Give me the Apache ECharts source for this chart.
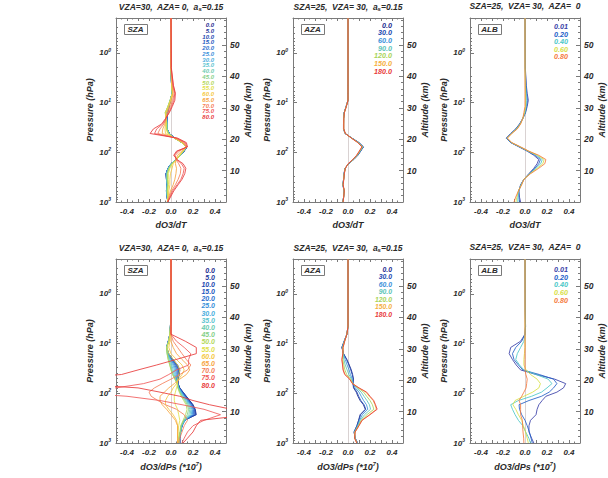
<!DOCTYPE html>
<html>
<head>
<meta charset="utf-8">
<script src="https://cdn.jsdelivr.net/npm/echarts@6/dist/echarts.min.js"></script>
<style>
  html, body { margin: 0; padding: 0; background: #fff; }
  #chart { width: 608px; height: 478px; }
</style>
</head>
<body>
<div id="chart"></div>
<script>
// pressure levels (hPa), bottom to top; every profile row below follows this order
const PRES = [1000, 800, 600, 450, 350, 270, 210, 170, 140, 115, 95, 78, 64, 52, 42, 34, 27, 21, 16, 12, 9, 6.5, 4.5, 2, 0.2];

const SZA = ["0.0", "5.0", "10.0", "15.0", "20.0", "25.0", "30.0", "35.0", "40.0", "45.0", "50.0", "55.0", "60.0", "65.0", "70.0", "75.0", "80.0"];
const AZA = ["0.0", "30.0", "60.0", "90.0", "120.0", "150.0", "180.0"];
const ALB = ["0.01", "0.20", "0.40", "0.60", "0.80"];

const SZA_COLORS = ["#1b2a8f", "#1f3a9e", "#2148b0", "#2358c0", "#2a70cf", "#3a90da", "#4aaede", "#5cc4cf", "#6ccbb0", "#86d08a", "#b4d85c", "#e2e04a", "#f5c842", "#f7a442", "#f57f5a", "#f05a5a", "#e83a3a"];
const AZA_COLORS = ["#1b2a8f", "#2148b0", "#3a90da", "#5cc4b8", "#a8d45a", "#f5b042", "#e83a3a"];
const ALB_COLORS = ["#3a3fa8", "#2360c8", "#4cc8c8", "#d8e048", "#f57a40"];

const TITLES = [
  "VZA=30,  AZA= 0,  a{s|s}=0.15",
  "SZA=25,  VZA= 30,  a{s|s}=0.15",
  "SZA=25,  VZA= 30,  AZA=  0"
];
const X_NAMES = ["dO3/dT", "dO3/dPs (*10{p|7})"];

// dO3/dT, SZA family
const T_SZA = [
  [-0.028,-0.035,-0.042,-0.036,-0.042,-0.045,-0.028,0.0,0.05,0.088,0.12,0.145,0.1,0.035,-0.015,-0.036,-0.036,-0.035,-0.03,-0.018,-0.005,0.01,0.005,0.0,0.0],
  [-0.028,-0.035,-0.042,-0.036,-0.041,-0.045,-0.028,0.0,0.05,0.088,0.12,0.145,0.1,0.035,-0.015,-0.036,-0.036,-0.035,-0.03,-0.018,-0.005,0.01,0.005,0.0,0.0],
  [-0.029,-0.035,-0.041,-0.036,-0.041,-0.044,-0.027,0.0,0.05,0.087,0.12,0.144,0.1,0.035,-0.016,-0.036,-0.036,-0.036,-0.031,-0.019,-0.005,0.01,0.005,0.0,0.0],
  [-0.029,-0.034,-0.041,-0.035,-0.041,-0.044,-0.027,0.001,0.05,0.087,0.119,0.143,0.1,0.034,-0.016,-0.036,-0.036,-0.036,-0.032,-0.019,-0.005,0.01,0.005,0.0,0.0],
  [-0.03,-0.034,-0.04,-0.035,-0.04,-0.043,-0.026,0.001,0.05,0.086,0.118,0.142,0.1,0.034,-0.017,-0.036,-0.036,-0.037,-0.034,-0.02,-0.006,0.01,0.005,0.0,0.0],
  [-0.03,-0.034,-0.04,-0.035,-0.04,-0.042,-0.026,0.002,0.05,0.086,0.117,0.141,0.1,0.033,-0.018,-0.036,-0.036,-0.038,-0.036,-0.021,-0.006,0.01,0.005,0.0,0.0],
  [-0.031,-0.033,-0.039,-0.034,-0.039,-0.041,-0.025,0.002,0.05,0.085,0.116,0.14,0.1,0.033,-0.018,-0.036,-0.036,-0.039,-0.04,-0.022,-0.006,0.01,0.005,0.0,0.0],
  [-0.031,-0.033,-0.038,-0.034,-0.038,-0.04,-0.024,0.003,0.05,0.085,0.115,0.14,0.1,0.032,-0.019,-0.036,-0.036,-0.04,-0.045,-0.024,-0.007,0.01,0.005,0.0,0.0],
  [-0.032,-0.032,-0.037,-0.033,-0.037,-0.038,-0.022,0.004,0.05,0.084,0.114,0.14,0.1,0.031,-0.02,-0.036,-0.037,-0.042,-0.05,-0.027,-0.008,0.01,0.005,0.0,0.0],
  [-0.032,-0.031,-0.035,-0.031,-0.035,-0.036,-0.02,0.006,0.05,0.083,0.113,0.14,0.1,0.03,-0.022,-0.037,-0.038,-0.043,-0.052,-0.028,-0.008,0.011,0.005,0.0,0.0],
  [-0.033,-0.03,-0.033,-0.028,-0.032,-0.032,-0.017,0.008,0.05,0.082,0.112,0.14,0.1,0.03,-0.025,-0.04,-0.04,-0.045,-0.053,-0.028,-0.008,0.012,0.006,0.0,0.0],
  [-0.033,-0.028,-0.028,-0.022,-0.025,-0.024,-0.01,0.012,0.05,0.08,0.11,0.14,0.1,0.03,-0.03,-0.045,-0.043,-0.045,-0.05,-0.026,-0.006,0.013,0.006,0.0,0.0],
  [-0.033,-0.025,-0.02,-0.01,-0.01,-0.005,0.01,0.02,0.05,0.075,0.105,0.14,0.105,0.035,-0.05,-0.055,-0.048,-0.046,-0.045,-0.022,-0.004,0.015,0.007,0.0,0.0],
  [-0.032,-0.02,-0.005,0.02,0.035,0.045,0.05,0.04,0.045,0.06,0.095,0.14,0.11,0.04,-0.08,-0.075,-0.055,-0.045,-0.035,-0.015,0.005,0.02,0.01,0.0,0.0],
  [-0.03,-0.015,0.005,0.04,0.065,0.085,0.09,0.07,0.045,0.04,0.075,0.14,0.12,0.045,-0.12,-0.1,-0.065,-0.045,-0.028,-0.005,0.015,0.03,0.015,0.0,0.0],
  [-0.03,-0.01,0.015,0.055,0.09,0.11,0.12,0.095,0.05,0.03,0.06,0.145,0.13,0.05,-0.15,-0.13,-0.075,-0.045,-0.02,0.005,0.025,0.035,0.02,0.002,0.0],
  [-0.03,-0.005,0.025,0.065,0.1,0.125,0.135,0.11,0.055,0.025,0.05,0.15,0.14,0.06,-0.19,-0.16,-0.085,-0.05,-0.015,0.012,0.035,0.04,0.022,0.003,0.0]
];

// dO3/dT, AZA family
const T_AZA = [
  [-0.047,-0.04,-0.035,-0.047,-0.04,-0.036,-0.027,0.006,0.052,0.09,0.115,0.14,0.1,0.036,-0.026,-0.041,-0.041,-0.04,-0.035,-0.017,0.0,0.0,0.0,0.0,0.0],
  [-0.047,-0.04,-0.035,-0.047,-0.04,-0.036,-0.027,0.006,0.052,0.089,0.114,0.139,0.099,0.036,-0.026,-0.041,-0.041,-0.04,-0.035,-0.017,0.0,0.0,0.0,0.0,0.0],
  [-0.047,-0.04,-0.035,-0.046,-0.04,-0.035,-0.026,0.005,0.05,0.087,0.112,0.137,0.097,0.035,-0.026,-0.04,-0.04,-0.04,-0.035,-0.017,0.0,0.0,0.0,0.0,0.0],
  [-0.046,-0.04,-0.035,-0.046,-0.04,-0.035,-0.026,0.004,0.048,0.085,0.11,0.134,0.095,0.034,-0.026,-0.04,-0.04,-0.039,-0.034,-0.016,0.0,0.0,0.0,0.0,0.0],
  [-0.046,-0.04,-0.034,-0.045,-0.039,-0.034,-0.025,0.003,0.046,0.082,0.107,0.131,0.093,0.033,-0.025,-0.039,-0.039,-0.039,-0.034,-0.016,0.0,0.0,0.0,0.0,0.0],
  [-0.045,-0.039,-0.034,-0.045,-0.039,-0.034,-0.025,0.002,0.044,0.08,0.104,0.128,0.09,0.032,-0.025,-0.039,-0.039,-0.038,-0.033,-0.015,0.0,0.0,0.0,0.0,0.0],
  [-0.045,-0.039,-0.034,-0.044,-0.038,-0.033,-0.024,0.001,0.043,0.078,0.102,0.126,0.089,0.031,-0.024,-0.038,-0.038,-0.038,-0.033,-0.015,0.0,0.0,0.0,0.0,0.0]
];

// dO3/dT, albedo family
const T_ALB = [
  [-0.04,-0.05,-0.055,-0.04,-0.01,0.035,0.08,0.11,0.125,0.08,0.02,-0.055,-0.13,-0.17,-0.13,-0.085,-0.05,-0.02,0.005,0.02,0.03,0.02,0.012,0.003,0.0],
  [-0.05,-0.055,-0.057,-0.038,-0.01,0.038,0.09,0.125,0.14,0.093,0.024,-0.05,-0.128,-0.168,-0.128,-0.082,-0.048,-0.02,0.003,0.015,0.022,0.015,0.009,0.002,0.0],
  [-0.065,-0.065,-0.058,-0.035,-0.01,0.042,0.1,0.143,0.157,0.105,0.028,-0.047,-0.125,-0.165,-0.125,-0.078,-0.045,-0.02,0.0,0.01,0.012,0.01,0.006,0.001,0.0],
  [-0.082,-0.075,-0.06,-0.032,-0.01,0.046,0.112,0.162,0.174,0.115,0.032,-0.043,-0.122,-0.162,-0.122,-0.074,-0.042,-0.02,-0.005,0.005,0.005,0.005,0.003,0.0,0.0],
  [-0.1,-0.085,-0.06,-0.03,-0.01,0.05,0.125,0.18,0.19,0.125,0.035,-0.04,-0.12,-0.16,-0.12,-0.07,-0.04,-0.02,-0.01,0.0,0.0,0.0,0.0,0.0,0.0]
];

// dO3/dPs (*10^7), SZA family
const P_SZA = [
  [0.08,0.08,0.085,0.1,0.12,0.23,0.22,0.2,0.17,0.14,0.11,0.08,0.065,0.065,0.075,0.08,0.06,0.02,-0.02,-0.04,-0.025,-0.01,-0.005,0.0,0.0],
  [0.08,0.08,0.086,0.1,0.122,0.225,0.218,0.198,0.168,0.138,0.108,0.079,0.064,0.063,0.072,0.076,0.056,0.018,-0.021,-0.04,-0.025,-0.01,-0.005,0.0,0.0],
  [0.08,0.079,0.087,0.1,0.124,0.22,0.215,0.195,0.165,0.135,0.106,0.078,0.063,0.06,0.068,0.07,0.05,0.014,-0.022,-0.04,-0.024,-0.01,-0.005,0.0,0.0],
  [0.079,0.078,0.088,0.1,0.125,0.212,0.21,0.19,0.16,0.131,0.103,0.076,0.062,0.057,0.062,0.062,0.043,0.01,-0.023,-0.04,-0.024,-0.01,-0.005,0.0,0.0],
  [0.078,0.077,0.088,0.1,0.126,0.204,0.204,0.184,0.155,0.127,0.1,0.074,0.061,0.053,0.055,0.053,0.035,0.005,-0.025,-0.04,-0.023,-0.01,-0.005,0.0,0.0],
  [0.077,0.076,0.088,0.099,0.126,0.195,0.197,0.178,0.15,0.122,0.097,0.072,0.06,0.049,0.047,0.043,0.026,0.0,-0.027,-0.04,-0.023,-0.01,-0.005,0.0,0.0],
  [0.076,0.075,0.088,0.098,0.125,0.185,0.19,0.172,0.144,0.117,0.093,0.07,0.059,0.045,0.038,0.032,0.017,-0.006,-0.029,-0.04,-0.022,-0.01,-0.005,0.0,0.0],
  [0.075,0.074,0.087,0.097,0.123,0.174,0.181,0.165,0.138,0.112,0.089,0.068,0.058,0.041,0.03,0.02,0.007,-0.012,-0.031,-0.04,-0.022,-0.01,-0.005,0.0,0.0],
  [0.074,0.073,0.086,0.095,0.12,0.162,0.171,0.157,0.131,0.106,0.085,0.066,0.057,0.038,0.022,0.01,-0.002,-0.018,-0.033,-0.04,-0.021,-0.01,-0.005,0.0,0.0],
  [0.073,0.072,0.084,0.092,0.116,0.148,0.16,0.148,0.124,0.1,0.08,0.064,0.056,0.036,0.016,0.002,-0.01,-0.024,-0.035,-0.04,-0.021,-0.01,-0.005,0.0,0.0],
  [0.072,0.07,0.081,0.088,0.11,0.132,0.146,0.137,0.115,0.093,0.075,0.062,0.056,0.036,0.014,0.0,-0.012,-0.026,-0.036,-0.039,-0.02,-0.01,-0.005,0.0,0.0],
  [0.065,0.065,0.065,0.07,0.08,0.07,0.06,0.04,0.03,0.03,0.04,0.05,0.06,0.06,0.07,0.08,0.06,0.02,-0.02,-0.035,-0.02,-0.01,-0.005,0.0,0.0],
  [0.06,0.06,0.06,0.06,0.05,0.02,-0.02,-0.05,-0.05,-0.03,0.0,0.02,0.05,0.07,0.1,0.12,0.1,0.05,0.0,-0.02,-0.01,-0.005,0.0,0.0,0.0],
  [0.06,0.06,0.06,0.06,0.04,0.0,-0.04,-0.08,-0.1,-0.1,-0.06,-0.02,0.03,0.08,0.14,0.17,0.15,0.1,0.05,0.02,0.0,0.0,0.0,0.0,0.0],
  [0.07,0.08,0.1,0.12,0.15,0.12,0.05,-0.05,-0.12,-0.18,-0.2,-0.15,-0.08,0.0,0.08,0.15,0.18,0.14,0.1,0.06,0.02,0.0,0.0,0.0,0.0],
  [0.1,0.12,0.15,0.2,0.3,0.45,0.3,0.1,-0.1,-0.4,-0.95,-0.5,-0.25,-0.1,-0.02,0.05,0.16,0.16,0.18,0.12,0.05,0.0,0.0,0.0,0.0],
  [0.11,0.15,0.2,0.23,0.27,0.72,0.55,0.35,0.2,0.08,-0.1,-0.3,-0.9,-1.0,-0.45,-0.3,-0.13,0.045,0.23,0.23,0.13,0.0,0.0,0.0,0.0]
];

// dO3/dPs (*10^7), AZA family
const P_AZA = [
  [0.087,0.065,0.055,0.08,0.096,0.11,0.157,0.14,0.11,0.09,0.075,0.05,0.045,0.05,0.042,0.03,0.012,-0.01,-0.04,-0.056,-0.035,-0.01,0.0,0.0,0.0],
  [0.087,0.065,0.056,0.082,0.098,0.115,0.162,0.146,0.117,0.097,0.082,0.055,0.046,0.048,0.038,0.025,0.008,-0.013,-0.041,-0.055,-0.035,-0.01,0.0,0.0,0.0],
  [0.085,0.064,0.058,0.086,0.105,0.13,0.18,0.168,0.142,0.12,0.1,0.066,0.045,0.04,0.022,0.01,-0.008,-0.025,-0.043,-0.052,-0.034,-0.01,0.0,0.0,0.0],
  [0.084,0.063,0.06,0.09,0.112,0.15,0.205,0.195,0.172,0.145,0.12,0.078,0.044,0.032,0.008,-0.008,-0.025,-0.037,-0.045,-0.05,-0.033,-0.01,0.0,0.0,0.0],
  [0.082,0.062,0.062,0.095,0.12,0.172,0.235,0.222,0.2,0.17,0.142,0.09,0.043,0.024,-0.012,-0.028,-0.038,-0.047,-0.046,-0.047,-0.031,-0.01,0.0,0.0,0.0],
  [0.08,0.06,0.064,0.099,0.126,0.195,0.258,0.245,0.228,0.193,0.163,0.098,0.041,0.017,-0.026,-0.042,-0.048,-0.054,-0.047,-0.045,-0.03,-0.01,0.0,0.0,0.0],
  [0.08,0.06,0.065,0.1,0.128,0.2,0.265,0.25,0.234,0.2,0.17,0.1,0.04,0.015,-0.03,-0.045,-0.05,-0.056,-0.047,-0.045,-0.03,-0.01,0.0,0.0,0.0]
];

// dO3/dPs (*10^7), albedo family
const P_ALB = [
  [0.08,0.06,0.036,0.036,0.05,0.1,0.11,0.126,0.156,0.19,0.29,0.35,0.37,0.27,0.1,-0.04,-0.08,-0.114,-0.144,-0.13,-0.04,0.0,0.005,0.002,0.0],
  [0.066,0.055,0.04,0.02,0.0,-0.03,-0.05,-0.054,0.036,0.15,0.22,0.26,0.29,0.26,0.13,-0.02,-0.06,-0.1,-0.114,-0.084,-0.03,0.0,0.005,0.002,0.0],
  [0.05,0.035,0.006,-0.02,-0.06,-0.09,-0.114,-0.13,-0.06,0.06,0.15,0.2,0.245,0.21,0.1,-0.01,-0.05,-0.084,-0.07,-0.04,-0.01,0.0,0.003,0.001,0.0],
  [0.03,0.02,0.005,-0.015,-0.03,-0.06,-0.084,-0.11,-0.09,-0.01,0.07,0.126,0.14,0.11,0.05,0.01,-0.01,-0.01,-0.005,0.0,0.0,0.0,0.0,0.0,0.0],
  [-0.01,-0.012,-0.018,-0.022,-0.024,-0.04,-0.04,-0.04,-0.054,-0.03,-0.01,0.01,0.015,0.02,0.008,0.0,0.0,0.0,0.0,0.0,0.0,0.0,0.0,0.0,0.0]
];

const FONT = '"Liberation Sans", Arial, sans-serif';
const INK = "#2a2a2a";
const FRAME = "#7a7a7a";

const panels = [
  { x: 116, y: 18,  title: 0, xname: 0, box: "SZA", names: SZA, colors: SZA_COLORS, rows: T_SZA, legX: 214, legY: 25,    legStep: 5.75, legFont: 6 },
  { x: 293, y: 18,  title: 1, xname: 0, box: "AZA", names: AZA, colors: AZA_COLORS, rows: T_AZA, legX: 392, legY: 25,    legStep: 7.67, legFont: 7.2 },
  { x: 470, y: 18,  title: 2, xname: 0, box: "ALB", names: ALB, colors: ALB_COLORS, rows: T_ALB, legX: 568, legY: 26.7,  legStep: 7.5,  legFont: 7.2 },
  { x: 116, y: 259, title: 0, xname: 1, box: "SZA", names: SZA, colors: SZA_COLORS, rows: P_SZA, legX: 215, legY: 270,   legStep: 7.19, legFont: 7 },
  { x: 293, y: 259, title: 1, xname: 1, box: "AZA", names: AZA, colors: AZA_COLORS, rows: P_AZA, legX: 392, legY: 269,   legStep: 7.55, legFont: 6.8 },
  { x: 470, y: 259, title: 2, xname: 1, box: "ALB", names: ALB, colors: ALB_COLORS, rows: P_ALB, legX: 568, legY: 269.3, legStep: 7.7,  legFont: 7.2 }
];
const W = 110, H = 184;

const labelStyle = { fontFamily: FONT, fontStyle: "italic", fontWeight: "bold", color: INK };

const grid = [], xAxis = [], yAxis = [], series = [], title = [], graphic = [];

panels.forEach((p, i) => {
  grid.push({ left: p.x, top: p.y, width: W, height: H });

  const xCommon = {
    gridIndex: i, type: "value", min: -0.5, max: 0.5, interval: 0.1,
    axisLine: { onZero: false, lineStyle: { color: FRAME, width: 1 } },
    axisTick: { inside: true, length: 3, lineStyle: { color: FRAME } },
    minorTick: { show: true, splitNumber: 2, length: 1.5, lineStyle: { color: FRAME } },
    splitLine: { show: false }
  };
  xAxis.push(Object.assign({}, xCommon, {
    position: "bottom",
    axisLabel: Object.assign({}, labelStyle, {
      fontSize: 8, margin: 5,
      formatter: (v) => {
        const k = Math.round(v * 10);
        return (k % 2 === 0 && Math.abs(k) <= 4) ? (k / 10).toFixed(1) : "";
      }
    }),
    name: X_NAMES[p.xname], nameLocation: "middle", nameGap: 18,
    nameTextStyle: Object.assign({}, labelStyle, {
      fontSize: 9,
      rich: { p: Object.assign({}, labelStyle, { fontSize: 5.5, padding: [0, 0, 5, 0] }) }
    })
  }));
  xAxis.push(Object.assign({}, xCommon, { position: "top", axisLabel: { show: false } }));

  yAxis.push({
    gridIndex: i, type: "log", logBase: 10, min: 0.2, max: 1000, inverse: true, position: "left",
    axisLine: { onZero: false, lineStyle: { color: FRAME, width: 1 } },
    axisTick: { inside: true, length: 4, lineStyle: { color: FRAME } },
    minorTick: { show: true, splitNumber: 9, length: 2, lineStyle: { color: FRAME } },
    splitLine: { show: false },
    axisLabel: {
      margin: 5,
      formatter: (v) => {
        const e = Math.log10(v);
        return Math.abs(e - Math.round(e)) < 1e-6 ? "{b|10}{s|" + Math.round(e) + "}" : "";
      },
      rich: {
        b: Object.assign({}, labelStyle, { fontSize: 8 }),
        s: Object.assign({}, labelStyle, { fontSize: 5, padding: [0, 0, 6, 0] })
      }
    },
    name: "Pressure (hPa)", nameLocation: "middle", nameGap: 22,
    nameTextStyle: Object.assign({}, labelStyle, { fontSize: 9 })
  });
  yAxis.push({
    gridIndex: i, type: "value", min: 0, max: 58.6, interval: 10, position: "right",
    axisLine: { onZero: false, lineStyle: { color: FRAME, width: 1 } },
    axisTick: { inside: true, length: 4, lineStyle: { color: FRAME } },
    minorTick: { show: true, splitNumber: 5, length: 2, lineStyle: { color: FRAME } },
    splitLine: { show: false },
    axisLabel: Object.assign({}, labelStyle, {
      fontSize: 8.5, margin: 4,
      formatter: (v) => (v > 0 && Math.abs(v % 10) < 1e-6) ? String(v) : ""
    }),
    name: "Altitude (km)", nameLocation: "middle", nameGap: 17, nameRotate: 90,
    nameTextStyle: Object.assign({}, labelStyle, { fontSize: 9 })
  });

  p.rows.forEach((row, k) => {
    const s = {
      type: "line", name: p.names[k], xAxisIndex: 2 * i, yAxisIndex: 2 * i,
      data: row.map((v, j) => [v, PRES[j]]),
      symbol: "none", clip: false, silent: true,
      lineStyle: { color: p.colors[k], width: 1, opacity: 0.85 },
      z: 3
    };
    if (k === 0) {
      s.markLine = {
        silent: true, symbol: "none", z: 1, label: { show: false },
        lineStyle: { color: "#d9d2d2", width: 1, type: "solid" },
        data: [{ xAxis: 0 }]
      };
    }
    series.push(s);
  });

  const cx = p.x + W / 2;
  title.push({
    text: TITLES[p.title], left: cx, top: p.y - 17, textAlign: "center", padding: 0,
    textStyle: Object.assign({}, labelStyle, {
      fontSize: 8.5, fontWeight: "bold",
      rich: { s: Object.assign({}, labelStyle, { fontSize: 6, padding: [5, 0, 0, 0] }) }
    })
  });

  // boxed family tag
  graphic.push({
    type: "rect", left: p.x + 8, top: p.y + 6, silent: true,
    shape: { width: 23, height: 10 },
    style: { fill: "#fff", stroke: FRAME, lineWidth: 1 }
  });
  graphic.push({
    type: "text", x: p.x + 19.5, y: p.y + 11.5, silent: true,
    style: {
      text: p.box, fill: INK, font: "italic bold 8px " + FONT,
      textAlign: "center", textVerticalAlign: "middle", align: "center", verticalAlign: "middle"
    }
  });

  // coloured value list
  p.names.forEach((n, k) => {
    graphic.push({
      type: "text", x: p.legX, y: p.legY + k * p.legStep, silent: true,
      style: {
        text: n, fill: p.colors[k], font: "italic bold " + p.legFont + "px " + FONT,
        textAlign: "right", textVerticalAlign: "middle", align: "right", verticalAlign: "middle"
      }
    });
  });
});

const chart = echarts.init(document.getElementById("chart"), null, { renderer: "svg" });
chart.setOption({
  animation: false,
  backgroundColor: "#fff",
  title, grid, xAxis, yAxis, series, graphic
});
</script>
</body>
</html>
